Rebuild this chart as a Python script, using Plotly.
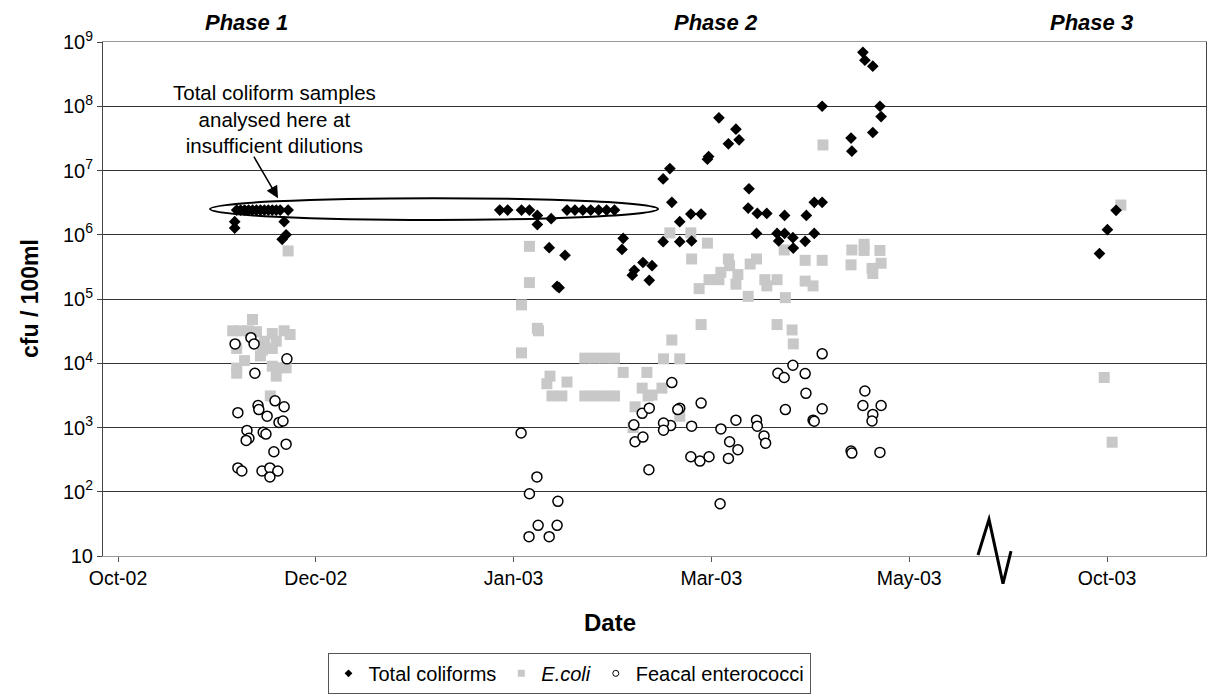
import plotly.graph_objects as go

# ---------------- data (x = days on the chart's date scale, Oct-02 tick = 0) ----------------
tick_days = [0, 50, 100, 150, 200, 250]
tick_labels = ["Oct-02", "Dec-02", "Jan-03", "Mar-03", "May-03", "Oct-03"]

tc_days = [29.5, 29.5, 30, 31, 32, 33, 34, 35, 36, 37, 38, 39, 40, 41, 43, 42, 42.5, 41.5,
           96.5, 98.5, 102, 104, 113.5, 115.5, 117.5, 119.5, 121.5, 123.5, 125.5,
           106, 106, 109.5, 109, 113, 111, 111.5, 127.7, 127.4, 132.7, 130.5, 130, 135, 134.3,
           137.8, 139.5, 140, 142, 144.8, 147.4, 137.8, 142, 145,
           151.9, 156.2, 154.3, 157, 149.3, 149,
           159.5, 159.3, 161.6, 164, 161.4, 166.6, 167,
           168.5, 174, 168.5, 170.6, 176, 173.7, 170.7, 176, 178, 178,
           185.3, 185.5, 188.3, 188.8, 190.8, 190.8, 192.6, 192.9,
           248.1, 250.1, 252.3]
tc_vals = [1.6e6, 1.27e6, 2.42e6, 2.42e6, 2.42e6, 2.42e6, 2.42e6, 2.42e6, 2.42e6, 2.42e6, 2.42e6, 2.42e6,
           2.42e6, 2.42e6, 2.42e6, 1.6e6, 1.0e6, 8.5e5,
           2.42e6, 2.42e6, 2.42e6, 2.42e6, 2.42e6, 2.42e6, 2.42e6, 2.42e6, 2.42e6, 2.42e6, 2.42e6,
           2.0e6, 1.44e6, 1.78e6, 6.3e5, 4.8e5, 1.58e5, 1.5e5, 8.8e5, 5.9e5, 3.7e5, 2.8e5, 2.35e5, 3.3e5, 1.95e5,
           7.4e6, 1.07e7, 3.2e6, 1.6e6, 2.1e6, 2.1e6, 7.8e5, 7.8e5, 8e5,
           6.6e7, 4.4e7, 2.6e7, 3.0e7, 1.65e7, 1.5e7,
           5.2e6, 2.6e6, 2.15e6, 2.15e6, 1.05e6, 1.05e6, 8e5,
           2.0e6, 2.0e6, 1.05e6, 9e5, 1.05e6, 7.9e5, 6.2e5, 3.2e6, 3.2e6, 1.0e8,
           3.2e7, 2.0e7, 6.9e8, 5.2e8, 4.2e8, 3.9e7, 1.0e8, 6.9e7,
           5.1e5, 1.2e6, 2.4e6]

ec_days = [34, 29, 31, 33, 35, 39, 42, 43.5, 37, 40, 36.5, 39, 36, 30, 32, 30, 30, 39, 41, 42.5, 40, 38.5, 43,
           104, 104, 102, 106, 106.3, 102, 118, 120.5, 123, 125.5, 109.2, 108.4, 113.5, 109.7, 112.2,
           118, 120.5, 123, 125.5, 127.7, 133.7, 132.5, 134, 130.7, 130.2, 137.5, 135, 137.9, 142, 140,
           142, 147.4, 146.9, 139.5, 144.8, 149, 145, 154.3, 161.4, 159.8, 152.4, 154.6, 156.7, 149.4,
           151.9, 156.2, 163.5, 164, 159.3, 166.6, 166.6, 178.2, 168.4, 173.7, 178, 185.5, 188.6, 188.6,
           192.6, 185.3, 190.6, 190.8, 192.9, 173.7, 175.7, 168.7, 170.4, 170.7,
           253.5, 249.3, 251.3]
ec_vals = [4.8e4, 3.2e4, 3.2e4, 3.2e4, 3.1e4, 2.9e4, 3.2e4, 2.8e4, 2.2e4, 2.2e4, 1.6e4, 1.7e4, 1.3e4, 1.7e4,
           1.1e4, 8.4e3, 7e3, 9e3, 8.5e3, 8.5e3, 6.3e3, 3.1e3, 5.6e5,
           6.6e5, 1.8e5, 8.1e4, 3.5e4, 3.2e4, 1.45e4, 1.2e4, 1.2e4, 1.2e4, 1.2e4, 6.3e3, 4.8e3, 5.1e3, 3.1e3, 3.1e3,
           3.1e3, 3.1e3, 3.1e3, 3.1e3, 7.2e3, 7.2e3, 4.1e3, 3.1e3, 2.1e3, 1.0e3, 4.1e3, 3.2e3, 1.17e4, 1.17e4, 2.3e4,
           1.5e3, 4.0e4, 1.45e5, 1.07e6, 1.07e6, 7.4e5, 4.2e5, 4.2e5, 4.2e5, 3.5e5, 2.6e5, 3.3e5, 2.4e5, 2.0e5,
           2.0e5, 1.7e5, 2.0e5, 1.6e5, 1.1e5, 2.0e5, 4.0e4, 2.5e7, 5.8e5, 4.0e5, 4.0e5, 5.8e5, 7.1e5, 5.7e5,
           5.7e5, 3.4e5, 3.0e5, 2.5e5, 3.6e5, 1.9e5, 1.6e5, 1.05e5, 3.3e4, 2.0e4,
           2.9e6, 6e3, 5.9e2]

fe_days = [29.6, 33.6, 34.4, 42.7, 34.6, 30.3, 35.4, 35.6, 39.7, 42, 37.7, 40.7, 41.7, 32.6, 33.1, 32.4,
           36.7, 37.4, 42.5, 39.4, 30.3, 31.3, 36.4, 38.4, 40.4, 38.4,
           101.9, 105.9, 104, 111.2, 106.2, 111, 103.9, 109,
           130.4, 130.7, 132.5, 132.7, 134.3, 134.2, 140, 147.4, 142, 141.5, 156.2, 139.7, 137.9, 137.9,
           145, 152.4, 161.4, 161.6, 163.3, 163.7, 154.6, 156.7, 154.3, 144.8, 147.1, 149.4, 152.2,
           178, 170.6, 166.8, 168.4, 173.7, 173.9, 188.8, 188.3, 192.9, 190.8, 190.6, 168.7, 178, 175.7, 176,
           185.3, 185.5, 192.6]
fe_vals = [2.0e4, 2.5e4, 2.0e4, 1.17e4, 7e3, 1.7e3, 2.2e3, 1.9e3, 2.6e3, 2.1e3, 1.5e3, 1.2e3, 1.26e3, 9e2,
           6.8e2, 6.3e2, 8.4e2, 7.9e2, 5.5e2, 4.2e2, 2.35e2, 2.1e2, 2.1e2, 2.35e2, 2.1e2, 1.7e2,
           8.2e2, 1.7e2, 93, 71, 30, 30, 20, 20,
           1.1e3, 6.0e2, 1.66e3, 7.1e2, 2.0e3, 2.2e2, 5.0e3, 2.4e3, 2.0e3, 1.9e3, 1.3e3, 1.07e3, 1.17e3, 9.1e2,
           1.05e3, 9.5e2, 1.3e3, 1.05e3, 7.4e2, 5.7e2, 6.0e2, 4.5e2, 3.3e2, 3.5e2, 3.0e2, 3.5e2, 65,
           1.4e4, 9.3e3, 7.0e3, 6.0e3, 6.9e3, 3.4e3, 3.7e3, 2.2e3, 2.2e3, 1.6e3, 1.26e3, 1.9e3, 1.95e3, 1.3e3, 1.25e3,
           4.3e2, 4.0e2, 4.1e2]

y_tick_vals = [10, 1e2, 1e3, 1e4, 1e5, 1e6, 1e7, 1e8, 1e9]
y_tick_text = ["10"] + ["10<sup>%d</sup>" % k for k in range(2, 10)]

phase_labels = ["Phase 1", "Phase 2", "Phase 3"]
series_names = ["Total coliforms", "<i>E.coli</i>", "Feacal enterococci"]

# ---------------- layout helpers ----------------
W, H = 1207, 695
L, R, T, B = 103, 1206, 42, 562


def px(x):
    return (x - L) / (R - L)


def py(y):
    return (B - y) / (B - T)


FONT = "Liberation Sans, Arial, Helvetica, sans-serif"

tc_marker = dict(symbol="diamond", color="black", line=dict(width=0))
ec_marker = dict(symbol="square", color="#c8c8c8", line=dict(width=0))
fe_marker = dict(symbol="circle", color="white", line=dict(width=1.5, color="black"))

fig = go.Figure()
fig.add_trace(go.Scatter(x=ec_days, y=ec_vals, mode="markers", name=series_names[1], showlegend=False,
                         marker=dict(ec_marker, size=11)))
fig.add_trace(go.Scatter(x=tc_days, y=tc_vals, mode="markers", name=series_names[0], showlegend=False,
                         marker=dict(tc_marker, size=9)))
fig.add_trace(go.Scatter(x=fe_days, y=fe_vals, mode="markers", name=series_names[2], showlegend=False,
                         marker=dict(fe_marker, size=10)))
# legend entries with the small symbols of the original legend
for nm, mk, sz in zip(series_names, [tc_marker, ec_marker, fe_marker], [6, 7, 6]):
    mk2 = dict(mk, size=sz)
    if mk is fe_marker:
        mk2["line"] = dict(width=1, color="black")
    fig.add_trace(go.Scatter(x=[None], y=[None], mode="markers", name=nm, marker=mk2, showlegend=True))

fig.update_layout(
    width=W, height=H, autosize=False,
    margin=dict(l=L, r=W - R, t=T, b=H - B),
    plot_bgcolor="white", paper_bgcolor="white",
    font=dict(family=FONT, size=20, color="black"),
    showlegend=True,
    legend=dict(orientation="h", x=px(569), xanchor="center", y=py(660), yanchor="top",
                bordercolor="#555", borderwidth=1, font=dict(size=20),
                itemwidth=30, tracegroupgap=0),
    xaxis=dict(range=[(L - 118) / 3.956, (R - 118) / 3.956], tickvals=tick_days, ticktext=tick_labels,
               showgrid=False, zeroline=False, showline=True, linecolor="#999", linewidth=1, mirror=True,
               ticks="outside", ticklen=5, tickcolor="#555", tickfont=dict(size=19.5)),
    yaxis=dict(type="log", range=[1, 9], tickvals=y_tick_vals, ticktext=y_tick_text,
               showgrid=True, gridcolor="#333", gridwidth=1, zeroline=False,
               showline=True, linecolor="#444", linewidth=1, mirror=True,
               ticks="outside", ticklen=5, tickcolor="#444", tickfont=dict(size=20)),
)

annotations = []
for name, xc in zip(phase_labels, [246, 716, 1091]):
    annotations.append(dict(text="<b><i>%s</i></b>" % name, x=px(xc), y=py(22), xref="paper", yref="paper",
                            showarrow=False, font=dict(size=22), xanchor="center", yanchor="middle"))
annotations.append(dict(text="<b>Date</b>", x=px(610), y=py(629), xref="paper", yref="paper",
                        showarrow=False, font=dict(size=24), xanchor="center", yanchor="middle"))
annotations.append(dict(text="<b>cfu / 100ml</b>", x=px(30), y=py(302), xref="paper", yref="paper",
                        showarrow=False, font=dict(size=23), textangle=-90, xanchor="center", yanchor="middle"))
# callout text
annotations.append(dict(text="Total coliform samples<br>analysed here at<br>insufficient dilutions",
                        x=px(274), y=py(120), xref="paper", yref="paper", showarrow=False,
                        font=dict(size=20.5), align="center", xanchor="center", yanchor="middle"))
# callout arrow (tail under the text, tip on the ellipse)
annotations.append(dict(text="", x=px(278), y=py(200), xref="paper", yref="paper", showarrow=True,
                        ax=253 - 278, ay=157 - 200, arrowhead=2, arrowsize=1.6, arrowwidth=1.5,
                        arrowcolor="black"))
fig.update_layout(annotations=annotations)

# ellipse around the insufficient-dilution samples
fig.add_shape(type="circle", xref="paper", yref="paper", x0=px(210), x1=px(658), y0=py(200), y1=py(222),
              line=dict(color="black", width=2))
# axis-break zigzag
zig = [(978, 561), (989, 525), (1003, 590), (1011, 557)]
path = "M " + " L ".join("%f,%f" % (px(a), py(b)) for a, b in zig)
fig.add_shape(type="path", xref="paper", yref="paper", path=path, line=dict(color="black", width=3))

fig.write_html("out.html")
